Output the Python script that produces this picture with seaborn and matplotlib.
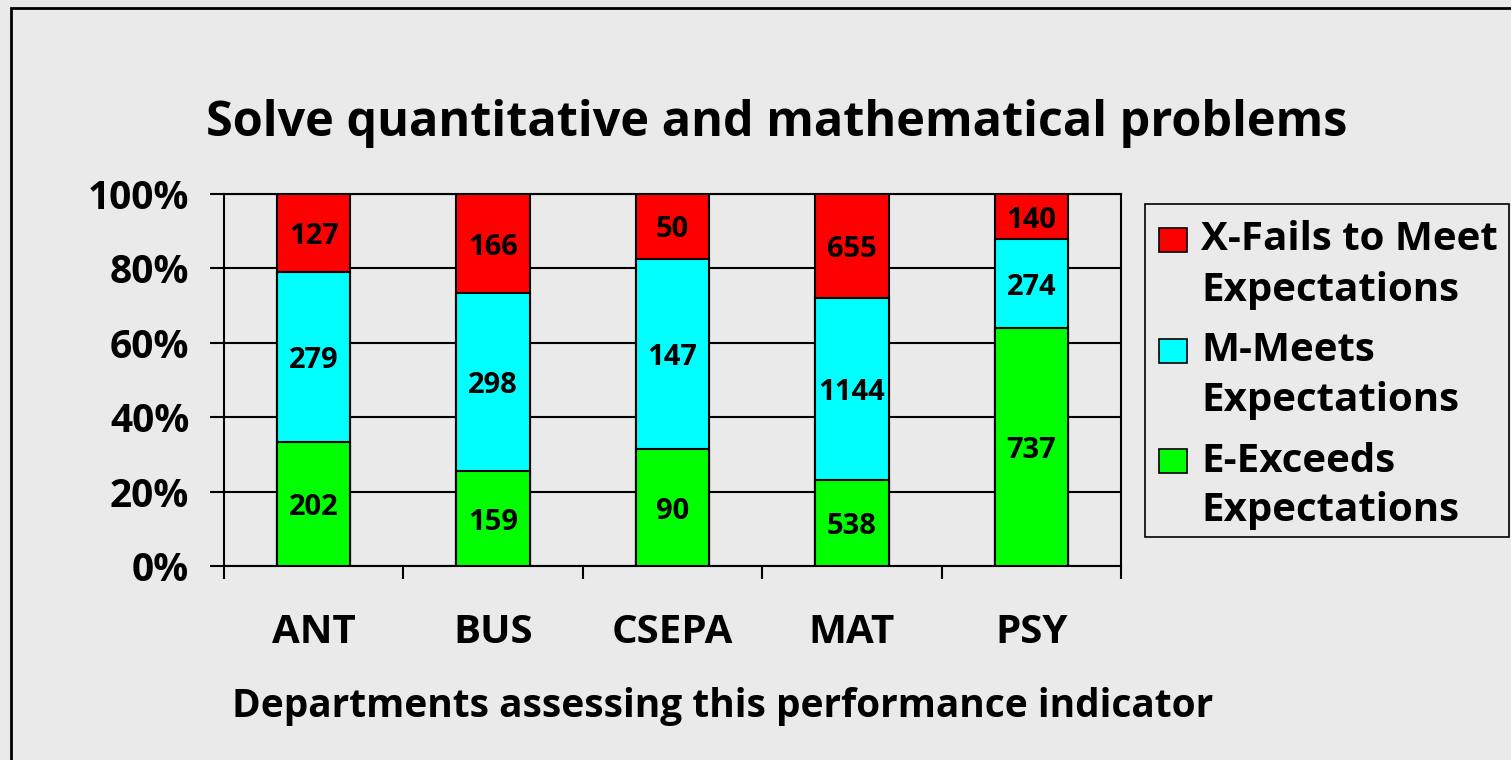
import numpy as np
import pandas as pd
import seaborn as sns
from matplotlib import pyplot as plt
from matplotlib.patches import Rectangle

# dados do gráfico
departamentos = ['ANT', 'BUS', 'CSEPA', 'MAT', 'PSY']
exceeds = [202, 159, 90, 538, 737]
meets = [279, 298, 147, 1144, 274]
fails = [127, 166, 50, 655, 140]

niveis = [('X-Fails to Meet', 'Expectations'), ('M-Meets', 'Expectations'), ('E-Exceeds', 'Expectations')]
cores = ['#ff0000', '#00ffff', '#00ff00']

df = pd.DataFrame({'Dept': departamentos, 'E': exceeds, 'M': meets, 'X': fails})
df['total'] = df[['E', 'M', 'X']].sum(axis=1)
df['pE'] = df['E'] / df['total'] * 100
df['pM'] = df['M'] / df['total'] * 100
df['pX'] = df['X'] / df['total'] * 100
df['cum_E'] = df['pE']
df['cum_M'] = df['pE'] + df['pM']
df['cum_X'] = df['cum_M'] + df['pX']

sns.set_theme(style='white')
plt.rcParams['font.family'] = ['Open Sans', 'DejaVu Sans']
plt.rcParams['font.weight'] = 'bold'
for k in ['text.color', 'axes.labelcolor', 'xtick.color', 'ytick.color']:
    plt.rcParams[k] = 'black'

W, H = 1511, 760
fig = plt.figure(figsize=(15.11, 7.6), dpi=100, facecolor='#eaeaea')
ax = fig.add_axes([224 / W, 1 - 566 / H, (1121 - 224) / W, (566 - 194) / H])
ax.set_facecolor('none')

# barras empilhadas: desenha a maior primeiro e sobrepõe as menores
for col, cor in zip(['cum_X', 'cum_M', 'cum_E'], cores):
    sns.barplot(data=df, x='Dept', y=col, color=cor, width=0.41, edgecolor='black',
                linewidth=1.5, saturation=1, ax=ax, zorder=3)

# números dentro de cada pedaço
for i, row in df.iterrows():
    for val, base, p in [(row['E'], 0, row['pE']),
                         (row['M'], row['cum_E'], row['pM']),
                         (row['X'], row['cum_M'], row['pX'])]:
        ax.text(i, base + p / 2, f'{val}', ha='center', va='center_baseline',
                fontsize=21, fontweight='bold', zorder=5)

ax.set_xlim(-0.5, 4.5)
ax.set_ylim(0, 100)
ax.set_yticks([0, 20, 40, 60, 80, 100])
ax.set_yticklabels([f'{t}%' for t in range(0, 101, 20)])
ax.set_xticks(range(5))
ax.set_xticks(np.arange(-0.5, 5, 1), minor=True)
ax.tick_params(axis='x', which='major', bottom=True, length=0, pad=34, labelsize=29)
ax.tick_params(axis='x', which='minor', bottom=True, length=9, width=1.5, color='black',
               direction='out')
ax.tick_params(axis='y', left=True, length=10, width=1.5, color='black', direction='out',
               pad=15, labelsize=28)
ax.yaxis.grid(True, color='black', linewidth=1.5, zorder=0)
ax.set_axisbelow(True)
for s in ax.spines.values():
    s.set_visible(True)
    s.set_color('black')
    s.set_linewidth(1.5)
ax.set_xlabel('')
ax.set_ylabel('')
for lbl in ax.get_xticklabels() + ax.get_yticklabels():
    lbl.set_fontweight('bold')

fig.text(777 / W, 1 - 123 / H, 'Solve quantitative and mathematical problems',
         ha='center', va='center', fontsize=35, fontweight='bold')
fig.text(723 / W, 1 - 706 / H, 'Departments assessing this performance indicator',
         ha='center', va='center', fontsize=28, fontweight='bold')

# legenda montada à mão (quadrado alinhado com a primeira linha)
fig.add_artist(Rectangle((1145 / W, 1 - 537 / H), (1509 - 1145) / W, (537 - 204) / H,
                         transform=fig.transFigure, fill=False, edgecolor='black', linewidth=1.2))
for (l1, l2), cor, yc in zip(niveis, cores, [240, 351, 461]):
    fig.add_artist(Rectangle((1159 / W, 1 - (yc + 12) / H), 28 / W, 24 / H,
                             transform=fig.transFigure, facecolor=cor, edgecolor='black',
                             linewidth=1.2))
    fig.text(1201 / W, 1 - yc / H, l1, ha='left', va='center', fontsize=29, fontweight='bold')
    fig.text(1201 / W, 1 - (yc + 50) / H, l2, ha='left', va='center', fontsize=29, fontweight='bold')

# moldura externa
fig.add_artist(Rectangle((11 / W, -0.1), 1.2, 1.1 - 8 / H, transform=fig.transFigure,
                         fill=False, edgecolor='black', linewidth=2))

plt.savefig('out.png', dpi=100, facecolor=fig.get_facecolor())
